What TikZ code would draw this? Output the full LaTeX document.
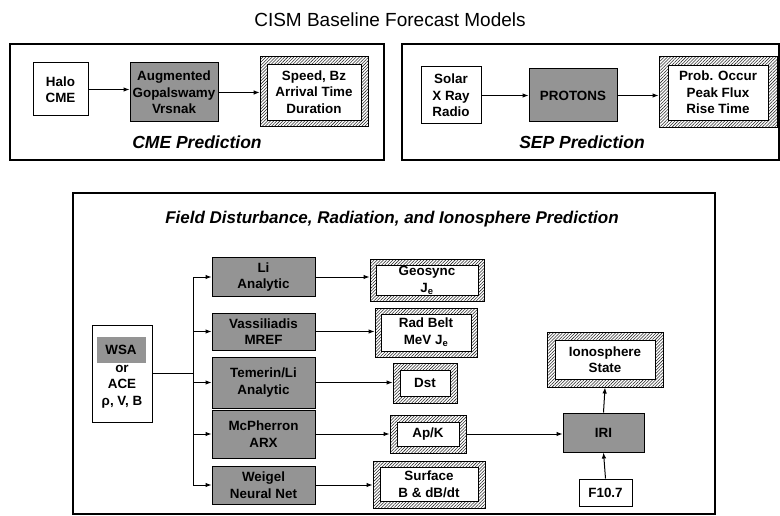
\documentclass[tikz,border=0pt]{standalone}
\usepackage{fontspec}
\setmainfont{Liberation Sans}
\usetikzlibrary{patterns.meta,arrows.meta}
\newcommand\hatchnode[8]{%
  \node[hatchbox, minimum width=#4pt, minimum height=#5pt] (#1o) at (#2,#3) {};
  \node[innerbox, minimum width=#6pt, minimum height=#7pt] (#1) at (#2,#3) {#8};}
\begin{document}
\begin{tikzpicture}[x=1pt,y=-1pt,
  boxfont/.style={font=\fontsize{13.4}{16.5}\selectfont\bfseries},
  panel/.style={draw, line width=2.2pt, inner sep=0pt},
  greybox/.style={draw, line width=1pt, fill=black!42, inner sep=0pt, align=center, boxfont},
  whitebox/.style={draw, line width=1pt, fill=white, inner sep=0pt, align=center, boxfont},
  hatchbox/.style={draw, line width=1pt, pattern={Lines[angle=45,distance=2.2pt,line width=0.55pt]}, pattern color=black!85, inner sep=0pt},
  innerbox/.style={draw, line width=0.6pt, fill=white, inner sep=0pt, align=center, boxfont},
  paneltitle/.style={anchor=base, font=\fontsize{17.5}{20}\selectfont\bfseries\itshape},
  arr/.style={line width=1pt, -{Latex[length=6pt,width=4.5pt]}},
  conn/.style={line width=1pt}]
\useasboundingbox (0,0) rectangle (780,516);
\node[anchor=base, font=\fontsize{19}{22}\selectfont] (title) at (390,27) {CISM Baseline Forecast Models};

% CME panel
\node[panel, minimum width=374pt, minimum height=116pt] (cmepanel) at (197,102) {};
\node[whitebox, minimum width=55pt, minimum height=53pt] (halo) at (60.5,89.5) {Halo\\CME};
\node[greybox, minimum width=88pt, minimum height=59pt] (aug) at (174,92.5) {Augmented\\Gopalswamy\\Vrsnak};
\hatchnode{speed}{314}{92}{108}{70}{94}{56}{Speed, Bz\\Arrival Time\\Duration}
\node[paneltitle] (cmel) at (197,149) {CME Prediction};
\draw[arr] (halo.east) -- (aug.west |- halo.east);
\draw[arr] (aug.east) -- (speedo.west |- aug.east);

% SEP panel
\node[panel, minimum width=377pt, minimum height=116pt] (seppanel) at (590.5,102) {};
\node[whitebox, minimum width=60pt, minimum height=57pt] (solar) at (451,95.5) {Solar\\X Ray\\Radio};
\node[greybox, minimum width=88pt, minimum height=53pt] (protons) at (573,95.5) {PROTONS};
\hatchnode{prob}{718}{92.5}{118}{71}{100}{55}{Prob. Occur\\Peak Flux\\Rise Time}
\node[paneltitle] (sepl) at (582,149) {SEP Prediction};
\draw[arr] (solar.east) -- (protons.west |- solar.east);
\draw[arr] (protons.east) -- (probo.west |- protons.east);

% Field panel
\node[panel, minimum width=642pt, minimum height=321pt] (fieldpanel) at (394,353.5) {};
\node[paneltitle, font=\fontsize{17}{20}\selectfont\bfseries\itshape] (fieldl) at (392,224) {Field Disturbance, Radiation, and Ionosphere Prediction};

\node[whitebox, minimum width=60pt, minimum height=97pt] (wsabox) at (122,373.5) {};
\node[draw=black!42, fill=black!42, inner sep=0pt, minimum width=48pt, minimum height=25pt, boxfont] (wsa) at (121,349.5) {WSA};
\node[boxfont, anchor=base] (ortext) at (122,372) {or};
\node[boxfont, anchor=base] (acetext) at (122,388) {ACE};
\node[boxfont, anchor=base] (rvbtext) at (122,405) {ρ, V, B};

\node[greybox, minimum width=103pt, minimum height=38pt] (li) at (263.5,277) {Li\\Analytic};
\node[greybox, minimum width=103pt, minimum height=37pt] (vass) at (263.5,331.5) {Vassiliadis\\MREF};
\node[greybox, minimum width=103pt, minimum height=51pt] (temerin) at (263.5,382.5) {Temerin/Li\\Analytic};
\node[greybox, minimum width=103pt, minimum height=48pt] (mcph) at (263.5,434) {McPherron\\ARX};
\node[greybox, minimum width=103pt, minimum height=38pt] (weigel) at (263.5,485) {Weigel\\Neural Net};

\hatchnode{geo}{427}{280.5}{114}{41}{102}{30}{Geosync\\J\textsubscript{e}}
\hatchnode{rad}{426}{332.5}{102}{49}{90}{37}{Rad Belt\\MeV J\textsubscript{e}}
\hatchnode{dst}{425}{383}{64}{40}{50}{26}{Dst}
\hatchnode{apk}{428}{434}{76}{38}{62}{24}{Ap/K}
\hatchnode{surf}{429}{484.5}{112}{47}{98}{34}{Surface\\B \& dB/dt}

\node[greybox, minimum width=81pt, minimum height=39pt] (iri) at (603.5,432.5) {IRI};
\hatchnode{iono}{605}{359.5}{116}{55}{100}{39}{Ionosphere\\State}
\node[whitebox, minimum width=53pt, minimum height=27pt] (f107) at (605.5,492.5) {F10.7};

\coordinate (busT) at (193,277);
\draw[conn] (wsabox.east) -- (wsabox.east -| busT);
\draw[arr] (weigel.west -| busT) -- (busT) -- (li.west);
\foreach \n in {vass,temerin,mcph,weigel} \draw[arr] (\n.west -| busT) -- (\n.west);

\draw[arr] (li.east) -- (geoo.west |- li.east);
\draw[arr] (vass.east) -- (rado.west |- vass.east);
\draw[arr] (temerin.east) -- (dsto.west |- temerin.east);
\draw[arr] (mcph.east) -- (apko.west |- mcph.east);
\draw[arr] (weigel.east) -- (surfo.west |- weigel.east);
\draw[arr] (apko.east) -- (iri.west |- apko.east);
\draw[arr] (iri.north) -- (ionoo.south);
\draw[arr] (f107.north) -- (iri.south);
\end{tikzpicture}
\end{document}
